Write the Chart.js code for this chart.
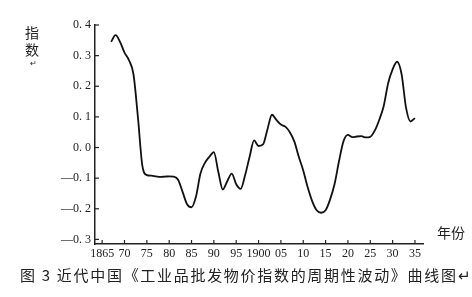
<!DOCTYPE html>
<html>
<head>
<meta charset="utf-8">
<script src="https://cdn.jsdelivr.net/npm/chart.js@4/dist/chart.umd.min.js"></script>
<style>
  body { margin: 0; background: #fff; }
  #wrap { position: relative; width: 472px; height: 297px; }
  #c { position: absolute; left: 0; top: 0; }
  .txt { position: absolute; font-family: "Noto Sans CJK SC"; color: #222; white-space: nowrap; }
</style>
</head>
<body>
<div id="wrap">
  <canvas id="c" width="472" height="297"></canvas>
  <div class="txt" style="left:25px;top:24px;font-size:14px;line-height:17px;width:16px;">指<br>数</div>
  <div class="txt" style="left:30px;top:57px;font-size:8px;">↵</div>
  <div class="txt" style="left:437px;top:222px;font-size:14px;">年份</div>
  <div class="txt" id="cap" style="left:20px;top:264px;font-size:15px;letter-spacing:1.7px;">图 3 近代中国《工业品批发物价指数的周期性波动》曲线图↵</div>
</div>
<script>
// années et valeurs
const annees = [1867, 1868, 1869, 1870, 1871, 1872, 1873, 1874, 1875, 1876,
  1877, 1878, 1879, 1880, 1881, 1882, 1883, 1884, 1885, 1886,
  1887, 1888, 1889, 1890, 1891, 1892, 1893, 1894, 1895, 1896,
  1897, 1898, 1899, 1900, 1901, 1902, 1903, 1904, 1905, 1906,
  1907, 1908, 1909, 1910, 1911, 1912, 1913, 1914, 1915, 1916,
  1917, 1918, 1919, 1920, 1921, 1922, 1923, 1924, 1925, 1926,
  1927, 1928, 1929, 1930, 1931, 1932, 1933, 1934, 1935];
const indice = [0.345, 0.367, 0.345, 0.31, 0.285, 0.24, 0.10, -0.06, -0.09, -0.092,
  -0.094, -0.096, -0.095, -0.094, -0.095, -0.105, -0.145, -0.185, -0.195, -0.16,
  -0.085, -0.05, -0.03, -0.015, -0.08, -0.137, -0.11, -0.085, -0.12, -0.135,
  -0.09, -0.03, 0.023, 0.005, 0.01, 0.06, 0.107, 0.09, 0.075, 0.068,
  0.05, 0.02, -0.03, -0.075, -0.13, -0.175, -0.205, -0.213, -0.205, -0.17,
  -0.12, -0.045, 0.02, 0.041, 0.034, 0.036, 0.037, 0.033, 0.035, 0.055,
  0.09, 0.135, 0.21, 0.255, 0.28, 0.24, 0.13, 0.085, 0.096];

// graduations
const ticksX = [1865, 1870, 1875, 1880, 1885, 1890, 1895, 1900, 1905, 1910, 1915, 1920, 1925, 1930, 1935];
const labelsX = ['1865', '70', '75', '80', '85', '90', '95', '1900', '05', '10', '15', '20', '25', '30', '35'];
const ticksY = [-0.3, -0.2, -0.1, 0.0, 0.1, 0.2, 0.3, 0.4];
const labelsY = ['—0. 3', '—0. 2', '—0. 1', '0. 0', '0. 1', '0. 2', '0. 3', '0. 4'];

const points = annees.map((a, i) => ({ x: a, y: indice[i] }));

// petits traits de graduation tournés vers l'intérieur
const traits = {
  id: 'traits',
  afterDraw(chart) {
    const ctx = chart.ctx;
    const sx = chart.scales.x, sy = chart.scales.y;
    ctx.save();
    ctx.strokeStyle = '#222';
    ctx.lineWidth = 1.2;
    ticksX.forEach(v => {
      const px = sx.getPixelForValue(v);
      ctx.beginPath(); ctx.moveTo(px, sy.bottom); ctx.lineTo(px, sy.bottom - 4); ctx.stroke();
    });
    ticksY.forEach(v => {
      const py = sy.getPixelForValue(v);
      ctx.beginPath(); ctx.moveTo(sx.left, py); ctx.lineTo(sx.left + 4, py); ctx.stroke();
    });
    ctx.restore();
  }
};

const police = { family: '"Liberation Serif", serif', size: 12 };

new Chart(document.getElementById('c'), {
  type: 'line',
  data: {
    datasets: [{
      data: points,
      borderColor: '#111',
      borderWidth: 1.8,
      pointRadius: 0,
      cubicInterpolationMode: 'monotone',
      fill: false
    }]
  },
  options: {
    responsive: false,
    animation: false,
    layout: { padding: { left: 0, top: 25, right: 49, bottom: 33 } },
    plugins: { legend: { display: false }, tooltip: { enabled: false } },
    scales: {
      x: {
        type: 'linear',
        min: 1863.4,
        max: 1936.8,
        afterBuildTicks: s => { s.ticks = ticksX.map(v => ({ value: v })); },
        afterFit: s => { s.height = 20; },
        grid: { display: false, drawTicks: false },
        border: { display: true, color: '#222', width: 1.5 },
        ticks: {
          padding: 3,
          color: '#222',
          font: police,
          maxRotation: 0,
          autoSkip: false,
          callback: (v) => labelsX[ticksX.indexOf(v)]
        }
      },
      y: {
        min: -0.315,
        max: 0.4,
        afterBuildTicks: s => { s.ticks = ticksY.map(v => ({ value: v })); },
        afterFit: s => { s.width = 95; },
        grid: { display: false, drawTicks: false },
        border: { display: true, color: '#222', width: 1.5 },
        ticks: {
          padding: 4,
          color: '#222',
          font: police,
          callback: (v) => labelsY[ticksY.findIndex(t => Math.abs(t - v) < 1e-6)]
        }
      }
    }
  },
  plugins: [traits]
});
</script>
</body>
</html>
